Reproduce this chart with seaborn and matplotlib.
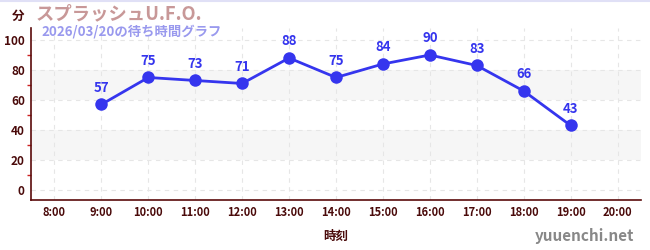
import matplotlib
matplotlib.use("Agg")
import matplotlib.pyplot as plt
import seaborn as sns
import pandas as pd
from matplotlib.ticker import MultipleLocator

hours = [9, 10, 11, 12, 13, 14, 15, 16, 17, 18, 19]
waits = [57, 75, 73, 71, 88, 75, 84, 90, 83, 66, 43]
tick_hours = [8, 9, 10, 11, 12, 13, 14, 15, 16, 17, 18, 19, 20]
tick_labels = ["8:00", "9:00", "10:00", "11:00", "12:00", "13:00", "14:00",
               "15:00", "16:00", "17:00", "18:00", "19:00", "20:00"]
y_ticks = [0, 20, 40, 60, 80, 100]
title = "スプラッシュU.F.O."
subtitle = "2026/03/20の待ち時間グラフ"
unit = "分"
xlabel = "時刻"
watermark = "yuuenchi.net"

sns.set_style("white")
plt.rcParams['font.family'] = ['Noto Sans CJK JP', 'DejaVu Sans']

df = pd.DataFrame({"hour": hours, "wait": waits})

fig = plt.figure(figsize=(6.5, 2.5), dpi=100)
ax = fig.add_axes([31/650, 50/250, (641-31)/650, (200-28)/250])

for lo, hi in [(20, 40), (60, 80)]:
    ax.axhspan(lo, hi, color="#f6f6f6", zorder=0, lw=0)

sns.lineplot(data=df, x="hour", y="wait", ax=ax, color="#3535ee", lw=2,
             marker="o", markersize=9, markeredgewidth=0, zorder=3)

for h, w in zip(hours, waits):
    ax.annotate(str(w), (h, w), xytext=(0, 7), textcoords="offset points",
                ha="center", va="bottom", color="#3535ee", fontsize=9.5,
                fontweight="bold")

ax.set_xlim(7.5, 20.5)
ax.set_ylim(-6.7, 108)
ax.set_xticks(tick_hours)
ax.set_xticklabels(tick_labels)
ax.set_yticks(y_ticks)
ax.yaxis.set_minor_locator(MultipleLocator(10))
ax.grid(True, which="major", color="#e6e6e6", ls=(0, (4, 4)), lw=0.8)
ax.set_axisbelow(True)

for s in ["top", "right"]:
    ax.spines[s].set_visible(False)
for s in ["left", "bottom"]:
    ax.spines[s].set_color("#5a0a0a")
    ax.spines[s].set_linewidth(1.2)

ax.tick_params(axis="x", which="major", length=4, width=1, color="#999999",
               labelsize=8, labelcolor="#4a0a0a", direction="inout", pad=2)
ax.tick_params(axis="y", which="major", length=5, width=1, color="#4a0a0a",
               labelsize=8.5, labelcolor="#4a0a0a", direction="inout", pad=2)
ax.tick_params(axis="y", which="minor", length=3, width=1, color="#cc2222",
               left=True, direction="out")
for lab in ax.get_xticklabels() + ax.get_yticklabels():
    lab.set_fontweight("bold")

ax.set_xlabel(xlabel, fontsize=9, color="#4a0a0a", fontweight="bold", labelpad=8)
ax.set_ylabel("")

fig.text(18/650, 1 - 16/250, unit, fontsize=9, color="#4a0a0a",
         fontweight="bold", ha="center", va="center")
fig.text(36/650, 1 - 14/250, title, fontsize=13.2, color="#c89898",
         fontweight="bold", ha="left", va="center")
fig.text(41/650, 1 - 32/250, subtitle, fontsize=9.6, color="#9999ee",
         fontweight="bold", ha="left", va="center")
fig.text(634/650, 1 - 236/250, watermark, fontsize=11, color="#888888",
         fontweight="bold", ha="right", va="center")
fig.add_artist(plt.Line2D([0, 1], [0.998, 0.998], color="#e0e0f6", lw=1.5,
                          transform=fig.transFigure))

fig.savefig("out.png", dpi=100)
